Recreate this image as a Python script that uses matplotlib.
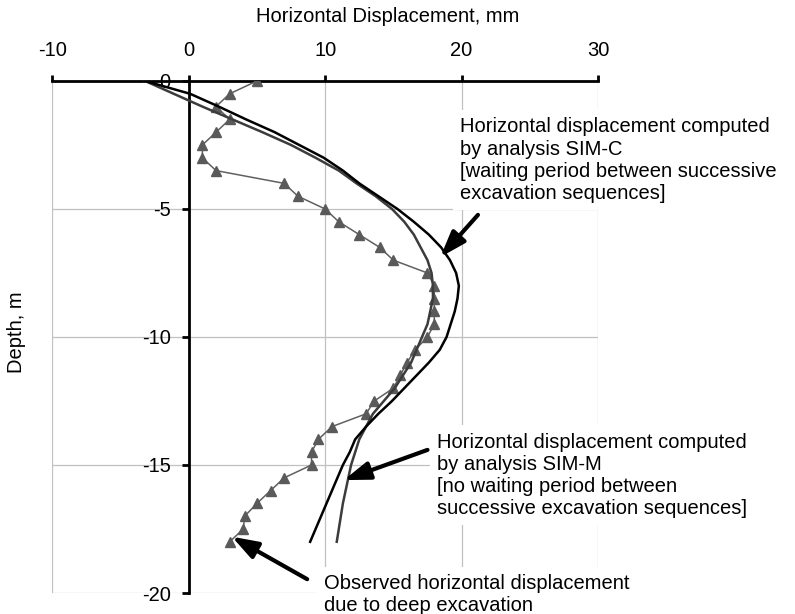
import numpy as np
import matplotlib
matplotlib.use("Agg")
import matplotlib.pyplot as plt

plt.rcParams['font.family'] = ['Liberation Sans', 'DejaVu Sans']
plt.rcParams['axes.unicode_minus'] = False

# depth (m) of every reading / computed point
depth = [0, -0.5, -1, -1.5, -2, -2.5, -3, -3.5, -4, -4.5, -5, -5.5, -6, -6.5,
         -7, -7.5, -8, -8.5, -9, -9.5, -10, -10.5, -11, -11.5, -12, -12.5,
         -13, -13.5, -14, -14.5, -15, -15.5, -16, -16.5, -17, -17.5, -18]

# observed inclinometer readings (mm)
observed = [5.0, 3.0, 2.0, 3.0, 2.0, 1.0, 1.0, 2.0, 7.0, 8.0, 10.0, 11.0, 12.5,
            14.0, 15.0, 17.5, 18.0, 18.0, 18.0, 18.0, 17.5, 16.6, 16.0, 15.5,
            15.0, 13.6, 13.0, 10.5, 9.5, 9.0, 9.0, 7.0, 6.0, 5.0, 4.1, 4.0, 3.0]

# computed curves (mm)
sim_outer = [-3.2, 0.1, 2.2, 4.2, 6.3, 8.1, 9.9, 11.3, 12.5, 13.9, 15.3, 16.5,
             17.6, 18.5, 19.15, 19.6, 19.8, 19.7, 19.5, 19.2, 18.9, 18.4, 17.6,
             16.7, 15.8, 14.9, 13.9, 13.0, 12.2, 11.8, 11.3, 10.9, 10.5, 10.1,
             9.7, 9.3, 8.9]
sim_inner = [-3.2, -1.1, 1.0, 3.2, 5.4, 7.5, 9.3, 11.0, 12.3, 13.7, 14.9, 15.8,
             16.5, 17.0, 17.5, 17.8, 17.9, 17.9, 17.7, 17.5, 17.1, 16.7, 16.3,
             15.7, 15.1, 14.3, 13.5, 13.0, 12.5, 12.2, 11.9, 11.7, 11.5, 11.3,
             11.15, 11.0, 10.85]

xticks = [-10, 0, 10, 20, 30]
yticks = [0, -5, -10, -15, -20]

FS = 14.5

fig = plt.figure(figsize=(7.95, 6.14), dpi=100)
ax = fig.add_axes([0.0658, 0.0342, 0.6864, 0.8339])
ax.set_xlim(-10, 30)
ax.set_ylim(-20, 0)

# grid
for gx in [-10, 10, 20, 30]:
    ax.axvline(gx, color='#c0c0c0', lw=0.9, zorder=0)
for gy in [-5, -10, -15, -20]:
    ax.axhline(gy, color='#c0c0c0', lw=0.9, zorder=0)

ax.plot(observed, depth, color='#606060', lw=1.1, marker='^', ms=7,
        mfc='#5a5a5a', mec='#5a5a5a', zorder=3)
ax.plot(sim_inner, depth, color='#3c3c3c', lw=1.8, zorder=4)
ax.plot(sim_outer, depth, color='black', lw=1.8, zorder=4)

# spines / ticks
ax.spines['right'].set_visible(False)
ax.spines['bottom'].set_visible(False)
ax.spines['left'].set_position(('data', 0))
ax.spines['left'].set_linewidth(2)
ax.spines['top'].set_linewidth(2)
ax.xaxis.tick_top()
ax.set_xticks(xticks)
ax.set_yticks(yticks)
ax.set_yticklabels([str(v) for v in yticks])
ax.tick_params(axis='x', direction='out', length=4, width=2, pad=11, labelsize=FS)
ax.tick_params(axis='y', direction='out', length=5, width=2, pad=8, labelsize=FS)
ax.set_facecolor('none')

fig.text(388 / 795, 1 - 17 / 614, 'Horizontal Displacement, mm', fontsize=FS,
         ha='center', va='center')
fig.text(16 / 795, 1 - 332 / 614, 'Depth, m', fontsize=FS, rotation=90,
         ha='center', va='center')

box = dict(boxstyle='square,pad=0.35', fc='white', ec='none')
ax.text(19.88, -3.1, 'Horizontal displacement computed\nby analysis SIM-C\n'
        '[waiting period between successive\nexcavation sequences]',
        fontsize=FS, ha='left', va='center', linespacing=1.22, bbox=box,
        zorder=5, clip_on=False)
ax.text(18.2, -15.41, 'Horizontal displacement computed\nby analysis SIM-M\n'
        '[no waiting period between\nsuccessive excavation sequences]',
        fontsize=FS, ha='left', va='center', linespacing=1.22, bbox=box,
        zorder=5, clip_on=False)
ax.text(9.93, -20.05, 'Observed horizontal displacement\ndue to deep excavation',
        fontsize=FS, ha='left', va='center', linespacing=1.22, bbox=box,
        zorder=5, clip_on=False)

arrow = dict(arrowstyle='-|>,head_length=1.3,head_width=0.45', lw=3,
             color='black', shrinkA=0, shrinkB=0, mutation_scale=12)
ax.annotate('', xy=(18.44, -6.88), xytext=(21.2, -5.23), arrowprops=arrow,
            annotation_clip=False, zorder=6)
ax.annotate('', xy=(11.37, -15.59), xytext=(17.5, -14.41), arrowprops=arrow,
            annotation_clip=False, zorder=6)
ax.annotate('', xy=(3.16, -17.8), xytext=(8.68, -19.46), arrowprops=arrow,
            annotation_clip=False, zorder=6)

fig.savefig('out.png', dpi=100)
